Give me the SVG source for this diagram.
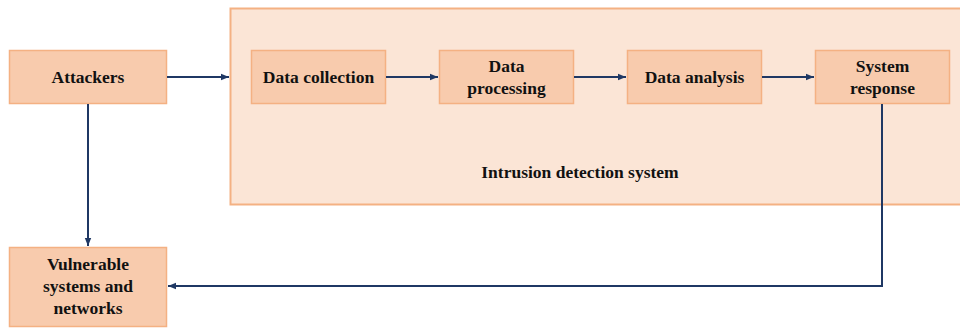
<svg xmlns="http://www.w3.org/2000/svg" width="960" height="329" viewBox="0 0 960 329">
<defs>
<style>
.box{fill:#F8CBAD;stroke:#F4B183;stroke-width:1.5}
.outer{fill:#FBE5D6;stroke:#F4B183;stroke-width:2}
.t{font-family:'Liberation Serif','Times New Roman',Times,'DejaVu Serif','Noto Serif',serif;font-weight:700;font-size:17.5px;fill:#111;text-anchor:middle}
.c{fill:none;stroke:#1F3864;stroke-width:2}
</style>
<marker id="ah" viewBox="0 0 10 10" refX="10" refY="5" markerWidth="4" markerHeight="4" orient="auto" markerUnits="strokeWidth">
<path d="M0,1 L10,5 L0,9 z" fill="#1F3864"/>
</marker>
</defs>
<rect width="960" height="329" fill="#fff"/>
<g id="ids">
<rect class="outer" x="230.5" y="8.5" width="740" height="196"/>
<text class="t" x="580" y="178" font-family="Liberation Serif, DejaVu Serif, serif">Intrusion detection system</text>
</g>
<g id="attackers">
<rect class="box" x="9.5" y="50.5" width="157" height="53"/>
<text class="t" x="88" y="83">Attackers</text>
</g>
<g id="collection">
<rect class="box" x="251.5" y="50.5" width="134" height="53"/>
<text class="t" x="318.5" y="83">Data collection</text>
</g>
<g id="processing">
<rect class="box" x="439.5" y="50.5" width="134" height="53"/>
<text class="t" x="506.5" y="72">Data</text>
<text class="t" x="506.5" y="94">processing</text>
</g>
<g id="analysis">
<rect class="box" x="627.5" y="50.5" width="134" height="53"/>
<text class="t" x="694.5" y="83">Data analysis</text>
</g>
<g id="response">
<rect class="box" x="815.5" y="50.5" width="134" height="53"/>
<text class="t" x="882.5" y="72">System</text>
<text class="t" x="882.5" y="94">response</text>
</g>
<g id="vulnerable">
<rect class="box" x="9.5" y="247.5" width="157" height="79"/>
<text class="t" x="88" y="270">Vulnerable</text>
<text class="t" x="88" y="292">systems and</text>
<text class="t" x="88" y="314">networks</text>
</g>
<g id="connectors">
<path class="c" d="M167,77 H229" marker-end="url(#ah)"/>
<path class="c" d="M386,77 H438" marker-end="url(#ah)"/>
<path class="c" d="M574,77 H626" marker-end="url(#ah)"/>
<path class="c" d="M762,77 H814" marker-end="url(#ah)"/>
<path class="c" d="M88,104 V246" marker-end="url(#ah)"/>
<path class="c" d="M882,104 V286 H168" marker-end="url(#ah)"/>
</g>
</svg>
